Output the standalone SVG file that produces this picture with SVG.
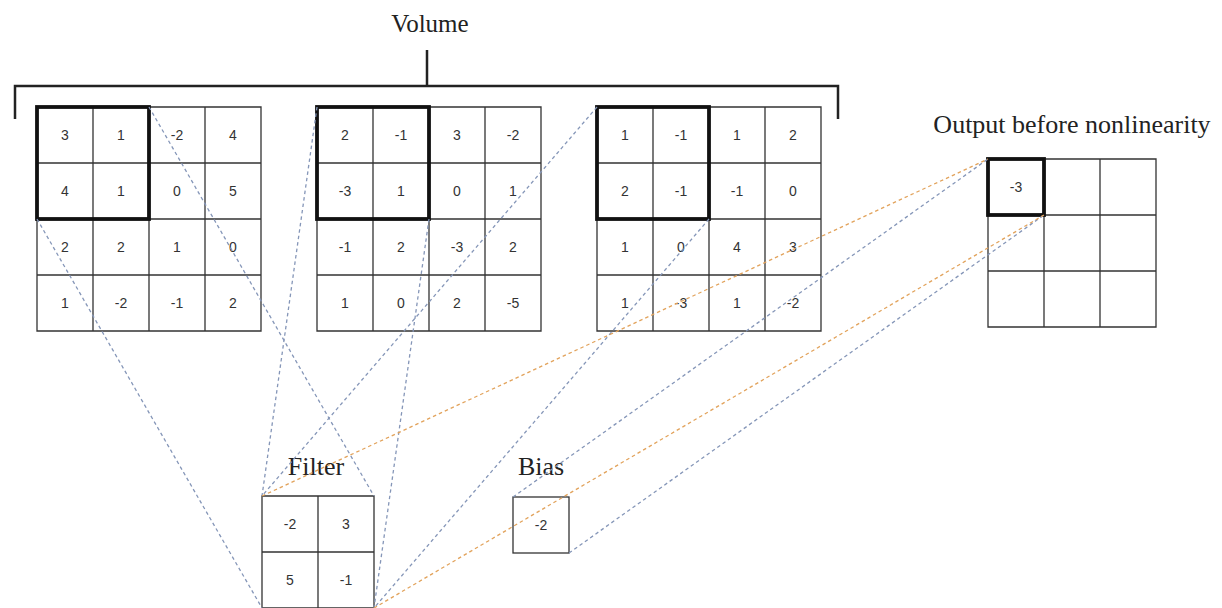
<svg xmlns="http://www.w3.org/2000/svg" width="1222" height="608" viewBox="0 0 1222 608">
<style>
.cell{fill:none;stroke:#333;stroke-width:1.3}
.hl{fill:none;stroke:#111;stroke-width:3.8}
.num{font-family:"Liberation Sans",Arial,sans-serif;font-size:14px;fill:#333;text-anchor:middle}
.lbl{font-family:"Liberation Serif","Times New Roman",serif;font-size:26px;fill:#222;text-anchor:middle}
.blue{stroke:#8596b8;stroke-width:1.3;stroke-dasharray:3.5 3;fill:none}
.orange{stroke:#e2a35c;stroke-width:1.3;stroke-dasharray:3.5 3;fill:none}
.brk{stroke:#222;stroke-width:2.5;fill:none}
</style>
<rect width="1222" height="608" fill="#fff"/>
<g id="volume-label">
<text class="lbl" x="430" y="32" style="font-size:25px">Volume</text>
<path class="brk" d="M15,119 V86 H838 V119 M427,50 V86"/>
</g>
<g id="grid1">
<path class="cell" d="M37,107 H261 V331 H37 Z M93,107 V331 M149,107 V331 M205,107 V331 M37,163 H261 M37,219 H261 M37,275 H261"/>
<rect class="hl" x="37" y="107" width="112" height="112"/>
<text class="num" x="65" y="140">3</text><text class="num" x="121" y="140">1</text><text class="num" x="177" y="140">-2</text><text class="num" x="233" y="140">4</text>
<text class="num" x="65" y="196">4</text><text class="num" x="121" y="196">1</text><text class="num" x="177" y="196">0</text><text class="num" x="233" y="196">5</text>
<text class="num" x="65" y="252">2</text><text class="num" x="121" y="252">2</text><text class="num" x="177" y="252">1</text><text class="num" x="233" y="252">0</text>
<text class="num" x="65" y="308">1</text><text class="num" x="121" y="308">-2</text><text class="num" x="177" y="308">-1</text><text class="num" x="233" y="308">2</text>
</g>
<g id="grid2">
<path class="cell" d="M317,107 H541 V331 H317 Z M373,107 V331 M429,107 V331 M485,107 V331 M317,163 H541 M317,219 H541 M317,275 H541"/>
<rect class="hl" x="317" y="107" width="112" height="112"/>
<text class="num" x="345" y="140">2</text><text class="num" x="401" y="140">-1</text><text class="num" x="457" y="140">3</text><text class="num" x="513" y="140">-2</text>
<text class="num" x="345" y="196">-3</text><text class="num" x="401" y="196">1</text><text class="num" x="457" y="196">0</text><text class="num" x="513" y="196">1</text>
<text class="num" x="345" y="252">-1</text><text class="num" x="401" y="252">2</text><text class="num" x="457" y="252">-3</text><text class="num" x="513" y="252">2</text>
<text class="num" x="345" y="308">1</text><text class="num" x="401" y="308">0</text><text class="num" x="457" y="308">2</text><text class="num" x="513" y="308">-5</text>
</g>
<g id="grid3">
<path class="cell" d="M597,107 H821 V331 H597 Z M653,107 V331 M709,107 V331 M765,107 V331 M597,163 H821 M597,219 H821 M597,275 H821"/>
<rect class="hl" x="597" y="107" width="112" height="112"/>
<text class="num" x="625" y="140">1</text><text class="num" x="681" y="140">-1</text><text class="num" x="737" y="140">1</text><text class="num" x="793" y="140">2</text>
<text class="num" x="625" y="196">2</text><text class="num" x="681" y="196">-1</text><text class="num" x="737" y="196">-1</text><text class="num" x="793" y="196">0</text>
<text class="num" x="625" y="252">1</text><text class="num" x="681" y="252">0</text><text class="num" x="737" y="252">4</text><text class="num" x="793" y="252">3</text>
<text class="num" x="625" y="308">1</text><text class="num" x="681" y="308">-3</text><text class="num" x="737" y="308">1</text><text class="num" x="793" y="308">-2</text>
</g>
<g id="output">
<text class="lbl" x="1072" y="133">Output before nonlinearity</text>
<path class="cell" d="M988,159 H1156 V327 H988 Z M1044,159 V327 M1100,159 V327 M988,215 H1156 M988,271 H1156"/>
<rect class="hl" x="988" y="159" width="56" height="56"/>
<text class="num" x="1016" y="192">-3</text>
</g>
<g id="filter">
<text class="lbl" x="316" y="475">Filter</text>
<path class="cell" d="M262,496 H374 V608 H262 Z M318,496 V608 M262,552 H374"/>
<text class="num" x="290" y="529">-2</text><text class="num" x="346" y="529">3</text>
<text class="num" x="290" y="585">5</text><text class="num" x="346" y="585">-1</text>
</g>
<g id="bias">
<text class="lbl" x="541" y="475">Bias</text>
<rect class="cell" x="513" y="497" width="56" height="56"/>
<text class="num" x="541" y="530">-2</text>
</g>
<g id="connectors">
<line class="blue" x1="149" y1="107" x2="374" y2="496"/>
<line class="blue" x1="37" y1="219" x2="262" y2="608"/>
<line class="blue" x1="317" y1="107" x2="262" y2="496"/>
<line class="blue" x1="429" y1="219" x2="374" y2="608"/>
<line class="blue" x1="597" y1="107" x2="262" y2="496"/>
<line class="blue" x1="709" y1="219" x2="374" y2="608"/>
<line class="blue" x1="513" y1="497" x2="988" y2="159"/>
<line class="blue" x1="569" y1="553" x2="1044" y2="215"/>
<line class="orange" x1="262" y1="496" x2="988" y2="159"/>
<line class="orange" x1="374" y1="608" x2="1044" y2="215"/>
</g>
</svg>
